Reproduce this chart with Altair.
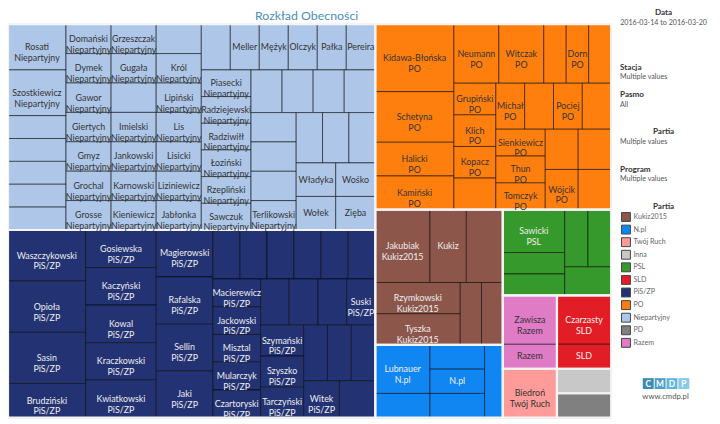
import math
import altair as alt
import pandas as pd

# ---------------- data ----------------
TITLE = "Rozkład Obecności"

niep_names = ["Rosati", "Szostkiewicz", None, None, None, None, None,
              "Domański", "Dymek", "Gawor", "Giertych", "Gmyz", "Grochal", "Grosse",
              "Grzeszczak", "Gugała", None, "Imielski", "Jankowski", "Karnowski", "Kieniewicz",
              None, "Król", "Lipiński", "Lis", "Lisicki", "Liziniewicz", "Jabłonka",
              None, "Meller", "Mężyk", "Olczyk", "Pałka", "Pereira",
              "Piasecki", "Radziejewski", "Radziwiłł", "Łoziński", "Rzepliński", "Sawczuk",
              None, None, None, None,
              None, None, None, "Terlikowski",
              None, None, None,
              "Władyka", "Wołek", "Wośko", "Zięba"]
niep_values = [2, 2, 1, 1, 1, 1, 1,
               1, 1, 1, 1, 1, 1, 1,
               1, 1, 1, 1, 1, 1, 1,
               1, 1, 1, 1, 1, 1, 1,
               1, 1, 1, 1, 1, 1,
               1, 1, 1, 1, 1, 1,
               1, 1, 1, 1,
               1, 1, 1, 1,
               1, 1, 1,
               1, 1, 1, 1]

pis_names = ["Waszczykowski", "Opioła", "Sasin", "Brudziński",
             "Gosiewska", "Kaczyński", "Kowal", "Kraczkowski", "Kwiatkowski",
             "Magierowski", "Rafalska", "Sellin", "Jaki",
             None, None, None, None, None, None,
             "Macierewicz", "Jackowski", "Misztal", "Mularczyk", "Czartoryski",
             None, None, None, "Suski",
             "Szymański", "Szyszko", "Tarczyński",
             None, None, None,
             "Witek", None]
pis_values = [3, 3, 3, 2,
              2, 2, 2, 2, 2,
              2, 2, 2, 2,
              1, 1, 1, 1, 1, 1,
              1, 1, 1, 1, 1,
              1, 1, 1, 1,
              1, 1, 1,
              1, 1, 1,
              1, 1]

po_names = ["Kidawa-Błońska", "Schetyna", "Halicki", "Kamiński",
            "Neumann", "Witczak", None, "Dorn", None,
            "Grupiński", "Klich", "Kopacz", None,
            "Michał", None, "Pociej", None,
            "Sienkiewicz", "Thun", "Tomczyk",
            None, None, "Wójcik", None]
po_values = [4, 3, 2, 2,
             2, 2, 1, 1, 1,
             1, 1, 1, 1,
             1, 1, 1, 1,
             1, 1, 1,
             1, 1, 1, 1]

kukiz_names = ["Jakubiak", "Kukiz", None, "Rzymkowski", "Tyszka", None, None]
kukiz_values = [3, 2, 2, 2, 2, 1, 1]

npl_names = ["Lubnauer", None, None, "", None, None]
npl_values = [2, 1, 1, 1, 1, 1]

psl_names = ["Sawicki", None, None, None, None, None]
psl_values = [2, 1, 1, 1, 1, 1]

razem_names = ["Zawisza", ""]
razem_values = [2, 1]

sld_names = ["Czarzasty", ""]
sld_values = [2, 1]

tr_names = ["Biedroń"]
tr_values = [2]

inna_names = [None]
inna_values = [1]

pd_names = [None]
pd_values = [1]

groups = [
    ("Niepartyjny", niep_names, niep_values),
    ("PiS/ZP", pis_names, pis_values),
    ("PO", po_names, po_values),
    ("Kukiz2015", kukiz_names, kukiz_values),
    ("N.pl", npl_names, npl_values),
    ("PSL", psl_names, psl_values),
    ("Razem", razem_names, razem_values),
    ("SLD", sld_names, sld_values),
    ("Twój Ruch", tr_names, tr_values),
    ("Inna", inna_names, inna_values),
    ("PD", pd_names, pd_values),
]

legend_parties = ["Kukiz2015", "N.pl", "Twój Ruch", "Inna", "PSL", "SLD",
                  "PiS/ZP", "PO", "Niepartyjny", "PD", "Razem"]
party_colors = {
    "Kukiz2015": "#8c564b", "N.pl": "#0f86f2", "Twój Ruch": "#ff9c9a",
    "Inna": "#c8c8c8", "PSL": "#36992c", "SLD": "#e21d25",
    "PiS/ZP": "#233273", "PO": "#ff7f0e", "Niepartyjny": "#aec7e8",
    "PD": "#808080", "Razem": "#e07cc6",
}
dark_fill = {"PiS/ZP", "Kukiz2015", "N.pl", "PSL", "SLD", "PD"}

filters = [("Stacja", "Multiple values"), ("Pasmo", "All"),
           ("Partia", "Multiple values"), ("Program", "Multiple values")]
date_range = "2016-03-14 to 2016-03-20"

# ---------------- treemap layout (squarified, golden-ratio target) ----------------
TW, TH = 610.0, 398.0
TARGET = 0.618


def worst(areas, length):
    thick = sum(areas) / length
    return max(abs(math.log((a / thick) / thick / TARGET)) for a in areas)


def squarify(values, x, y, w, h):
    order = sorted(range(len(values)), key=lambda k: -values[k])
    total = float(sum(values))
    areas = [values[k] * w * h / total for k in order]
    out = [None] * len(values)
    i, n = 0, len(areas)
    while i < n:
        vertical = w >= h
        length = h if vertical else w
        row = [areas[i]]
        j = i + 1
        while j < n and worst(row + [areas[j]], length) < worst(row, length):
            row.append(areas[j])
            j += 1
        thick = sum(row) / length
        pos = y if vertical else x
        for k, a in zip(order[i:j], row):
            along = a / thick
            if vertical:
                out[k] = (x, x + thick, pos, pos + along)
            else:
                out[k] = (pos, pos + along, y, y + thick)
            pos += along
        if vertical:
            x += thick
            w -= thick
        else:
            y += thick
            h -= thick
        i = j
    return out


def text_w(s, size=8.6):
    em = 0.0
    for ch in s:
        if ch in "ijlrtfł./1I":
            em += 0.28
        elif ch in "mwMW":
            em += 0.85
        elif ch.isupper():
            em += 0.65
        elif ch.isdigit():
            em += 0.55
        else:
            em += 0.52
    return em * size


def make_label(name, party, w, h):
    if name is None:
        return ""
    lines = []
    if name:
        lines.append(name)
    if text_w(party) <= w and (h >= 24 or not name):
        lines.append(party)
    return "\n".join(lines)


party_rects = squarify([sum(v) for _, _, v in groups], 0, 0, TW, TH)
cell_rows, part_rows = [], []
for (party, names, vals), (px0, px1, py0, py1) in zip(groups, party_rects):
    part_rows.append({"party": party, "x0": px0, "x1": px1, "y0": py0, "y1": py1})
    for name, val, (x0, x1, y0, y1) in zip(names, vals,
                                          squarify(vals, px0, py0, px1 - px0, py1 - py0)):
        cell_rows.append({
            "party": party, "value": val, "x0": x0, "x1": x1, "y0": y0, "y1": y1,
            "cx": (x0 + x1) / 2, "cy": (y0 + y1) / 2,
            "label": make_label(name, party, x1 - x0, y1 - y0),
            "tcolor": "#eeeeee" if party in dark_fill else "#333333",
        })
cells = pd.DataFrame(cell_rows)
parts = pd.DataFrame(part_rows)

# ---------------- chart ----------------
FONT = "Lato"
xs = alt.Scale(domain=[0, TW], range=[0, TW], nice=False, zero=False)
ys = alt.Scale(domain=[0, TH], range=[14, 14 + TH], nice=False, zero=False)
fill_scale = alt.Scale(domain=legend_parties, range=[party_colors[p] for p in legend_parties])

rects = alt.Chart(cells).mark_rect(stroke="#000000", strokeOpacity=0.55, strokeWidth=1).encode(
    x=alt.X("x0:Q", scale=xs, axis=None), x2="x1:Q",
    y=alt.Y("y0:Q", scale=ys, axis=None), y2="y1:Q",
    fill=alt.Fill("party:N", scale=fill_scale, legend=None),
)

borders = alt.Chart(parts).mark_rect(fillOpacity=0, stroke="#f4f4f4", strokeWidth=2.2).encode(
    x=alt.X("x0:Q", scale=xs, axis=None), x2="x1:Q",
    y=alt.Y("y0:Q", scale=ys, axis=None), y2="y1:Q",
)

labels = alt.Chart(cells[cells["label"] != ""]).mark_text(
    font=FONT, fontSize=9, lineBreak="\n", lineHeight=11, align="center", baseline="middle"
).encode(
    x=alt.X("cx:Q", scale=xs, axis=None),
    y=alt.Y("cy:Q", scale=ys, axis=None),
    text="label:N",
    color=alt.Color("tcolor:N", scale=None),
)


def note(txt, x, y, bold=False, align="left", size=7.2, color="#555555"):
    return alt.Chart(pd.DataFrame({"t": [txt]})).mark_text(
        align=align, baseline="middle", font=FONT, fontSize=size,
        fontWeight="bold" if bold else "normal", color=color
    ).encode(x=alt.value(x), y=alt.value(y), text="t:N")


HEAD = dict(bold=True, size=8.2, color="#333333")
layers = [rects, borders, labels,
          note(TITLE, 302, 6, size=12.5, align="center", color="#4a8fb8"),
          note("Data", 663, 3, align="center", **HEAD),
          note(date_range, 663, 13, align="center")]
fy = [58, 86, 123.5, 161]
for (head, val), yy in zip(filters, fy):
    if head == "Partia":
        layers.append(note(head, 663, yy, align="center", **HEAD))
    else:
        layers.append(note(head, 619, yy, **HEAD))
    layers.append(note(val, 619, yy + 9.5))
layers.append(note("Partia", 663, 199, align="center", **HEAD))

# legend (swatch + label) for the party colours
for i, p in enumerate(legend_parties):
    yc = 209 + i * 12.73
    layers.append(alt.Chart(pd.DataFrame({"party": [p]})).mark_rect(
        stroke="#444444", strokeWidth=1).encode(
        x=alt.value(620.5), x2=alt.value(629.5), y=alt.value(yc - 4.5), y2=alt.value(yc + 4.5),
        fill=alt.Fill("party:N", scale=fill_scale, legend=None)))
    layers.append(note(p, 632.5, yc, size=7.2, color="#666666"))

logo_letters = ["C", "M", "D", "P"]
logo_colors = ["#3b8bb3", "#4a9fc7", "#61b4da", "#86c9e8"]
for k, (letter, col) in enumerate(zip(logo_letters, logo_colors)):
    x0 = 642 + k * 12
    layers.append(alt.Chart(pd.DataFrame({"t": [letter]})).mark_rect(color=col).encode(
        x=alt.value(x0), x2=alt.value(x0 + 11), y=alt.value(372), y2=alt.value(383)))
    layers.append(note(letter, x0 + 5.5, 377.5, bold=True, align="center", size=8.5, color="#ffffff"))
layers.append(note("www.cmdp.pl", 665, 391, align="center", size=7.8, color="#555555"))

chart = alt.layer(*layers).properties(
    width=712, height=416, autosize=alt.AutoSizeParams(type="none"), padding=0,
    background="white"
).configure_view(stroke=None)

chart.save("out.html", embed_options={"renderer": "svg", "actions": False})
